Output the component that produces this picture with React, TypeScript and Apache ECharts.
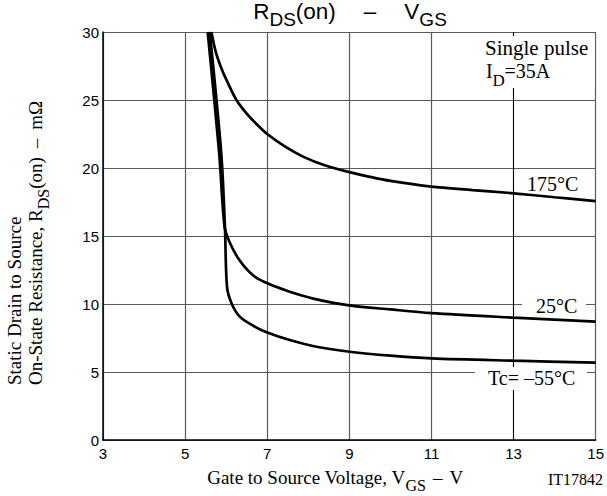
import React, { useEffect, useRef } from "react";
import * as echarts from "echarts";

// Gate-source voltage (V) and on-resistance (mOhm) per case temperature
const vgs175 = [5.64, 5.75, 5.9, 6.05, 6.25, 6.5, 6.75, 7.0, 7.4, 7.9, 8.4, 9.0, 9.5, 10.0, 11, 12, 13, 14, 15];
const rds175 = [30, 28.5, 27.2, 26.2, 25.0, 24.0, 23.2, 22.5, 21.65, 20.8, 20.2, 19.7, 19.35, 19.05, 18.63, 18.38, 18.14, 17.85, 17.57];

const vgs25 = [5.55, 5.83, 5.96, 6.09, 6.33, 6.66, 7.02, 7.55, 8.12, 9.0, 10.0, 11, 13, 15];
const rds25 = [30, 21.1, 15.7, 14.5, 13.2, 12.1, 11.5, 10.9, 10.4, 9.9, 9.6, 9.33, 9.0, 8.7];

const vgsM55 = [5.6, 5.88, 5.97, 6.02, 6.13, 6.33, 6.66, 7.0, 7.55, 8.2, 9.01, 10.0, 11, 13, 15];
const rdsM55 = [30, 21.1, 15.7, 11.27, 10.05, 9.07, 8.4, 7.9, 7.35, 6.86, 6.49, 6.2, 6.0, 5.83, 5.69];

const xTicks = [3, 5, 7, 9, 11, 13, 15];
const yTicks = [0, 5, 10, 15, 20, 25, 30];

const SERIF = "'Liberation Serif', 'DejaVu Serif', serif";
const SANS = "'Liberation Sans', Arial, sans-serif";

const pairs = (xs: number[], ys: number[]) => xs.map((x, i) => [x, ys[i]]);

export default function App() {
  const ref = useRef<HTMLDivElement>(null);
  useEffect(() => {
    document.body.style.margin = "0";
    const chart = echarts.init(ref.current!, null, { renderer: "svg" });
    const curve = (name: string, xs: number[], ys: number[], extra: any = {}) => ({
      name,
      type: "line",
      data: pairs(xs, ys),
      showSymbol: false,
      smooth: 0.3,
      lineStyle: { color: "#000", width: 2.7 },
      silent: true,
      z: 3,
      ...extra,
    });
    const subRich = (fam: string, main: number, sub: number, lh: number, drop: number, gap: number) => ({
      m: { fontFamily: fam, fontSize: main, lineHeight: lh, verticalAlign: "top", fill: "#000" },
      s: { fontFamily: fam, fontSize: sub, lineHeight: sub, verticalAlign: "top", padding: [drop, 0, 0, 0], fill: "#000" },
      d: { fontFamily: fam, fontSize: main, lineHeight: lh, verticalAlign: "top", padding: [0, gap, 0, gap], fill: "#000" },
    });
    const txt = (text: string, x: number, y: number, size: number, extra: any = {}) => ({
      type: "text",
      x,
      y,
      z: 11,
      style: { text, fontFamily: SERIF, fontSize: size, fill: "#000", align: "left", verticalAlign: "middle", ...extra },
    });
    chart.setOption({
      animation: false,
      backgroundColor: "#fff",
      grid: { left: 103, right: 10, top: 32, bottom: 56, containLabel: false },
      xAxis: {
        type: "value",
        min: xTicks[0],
        max: xTicks[xTicks.length - 1],
        axisLine: { show: true, onZero: false, lineStyle: { color: "#000", width: 1.5 } },
        axisTick: { show: false, customValues: xTicks },
        axisLabel: {
          customValues: xTicks,
          color: "#000",
          fontFamily: SANS,
          fontSize: 15,
          margin: 6,
        },
        splitLine: { show: true, lineStyle: { color: "#5a5a5a", width: 1.2 } },
      },
      yAxis: {
        type: "value",
        min: yTicks[0],
        max: yTicks[yTicks.length - 1],
        interval: 5,
        axisLine: { show: true, lineStyle: { color: "#000", width: 1.5 } },
        axisTick: { show: false },
        axisLabel: { color: "#000", fontFamily: SANS, fontSize: 15, margin: 4 },
        splitLine: { show: true, lineStyle: { color: "#5a5a5a", width: 1.2 } },
      },
      series: [
        curve("175°C", vgs175, rds175, {
          markLine: {
            silent: true,
            symbol: "none",
            label: { show: false },
            lineStyle: { color: "#000", width: 1, type: "solid" },
            data: [{ xAxis: 13 }],
            z: 1,
          },
        }),
        curve("25°C", vgs25, rds25),
        curve("Tc=-55°C", vgsM55, rdsM55),
      ],
      graphic: [
        {
          type: "text",
          x: 350,
          y: 12,
          z: 10,
          style: {
            text: "{m|R}{s|DS}{m|(on)}{d|–}{m|V}{s|GS}",
            align: "center",
            verticalAlign: "middle",
            rich: subRich(SANS, 22.5, 19, 24, 10, 28),
          },
        },
        {
          type: "text",
          x: 335,
          y: 479,
          z: 10,
          style: {
            text: "{m|Gate to Source Voltage, V}{s|GS}{d|–}{m|V}",
            align: "center",
            verticalAlign: "middle",
            rich: subRich(SERIF, 19, 16, 22, 9, 7),
          },
        },
        txt("IT17842", 548, 479, 16),
        {
          type: "text",
          x: 14,
          y: 385,
          rotation: Math.PI / 2,
          z: 10,
          style: { text: "Static Drain to Source", fontFamily: SERIF, fontSize: 19, fill: "#000", align: "left", verticalAlign: "middle" },
        },
        {
          type: "text",
          x: 37,
          y: 385,
          rotation: Math.PI / 2,
          z: 10,
          style: {
            text: "{m|On-State Resistance, R}{s|DS}{m|(on)}{d|–}{m|mΩ}",
            align: "left",
            verticalAlign: "middle",
            rich: subRich(SERIF, 19, 16, 22, 9, 9),
          },
        },
        // white boxes that interrupt the grid lines behind the notes
        { type: "rect", z: 10, shape: { x: 481, y: 36, width: 114, height: 52 }, style: { fill: "#fff" } },
        { type: "rect", z: 10, shape: { x: 522, y: 296, width: 64, height: 20 }, style: { fill: "#fff" } },
        { type: "rect", z: 10, shape: { x: 475, y: 367, width: 112, height: 23 }, style: { fill: "#fff" } },
        txt("Single pulse", 485, 48, 21),
        txt("I", 486, 71, 20),
        txt("D", 492.5, 80, 17),
        txt("=35A", 504.5, 71, 20),
        txt("175°C", 527, 184, 20),
        txt("25°C", 536, 306, 20),
        txt("Tc= –55°C", 488, 378, 20),
      ],
    });
    return () => chart.dispose();
  }, []);
  return <div ref={ref} style={{ position: "absolute", left: 0, top: 0, width: 607, height: 496 }} />;
}
